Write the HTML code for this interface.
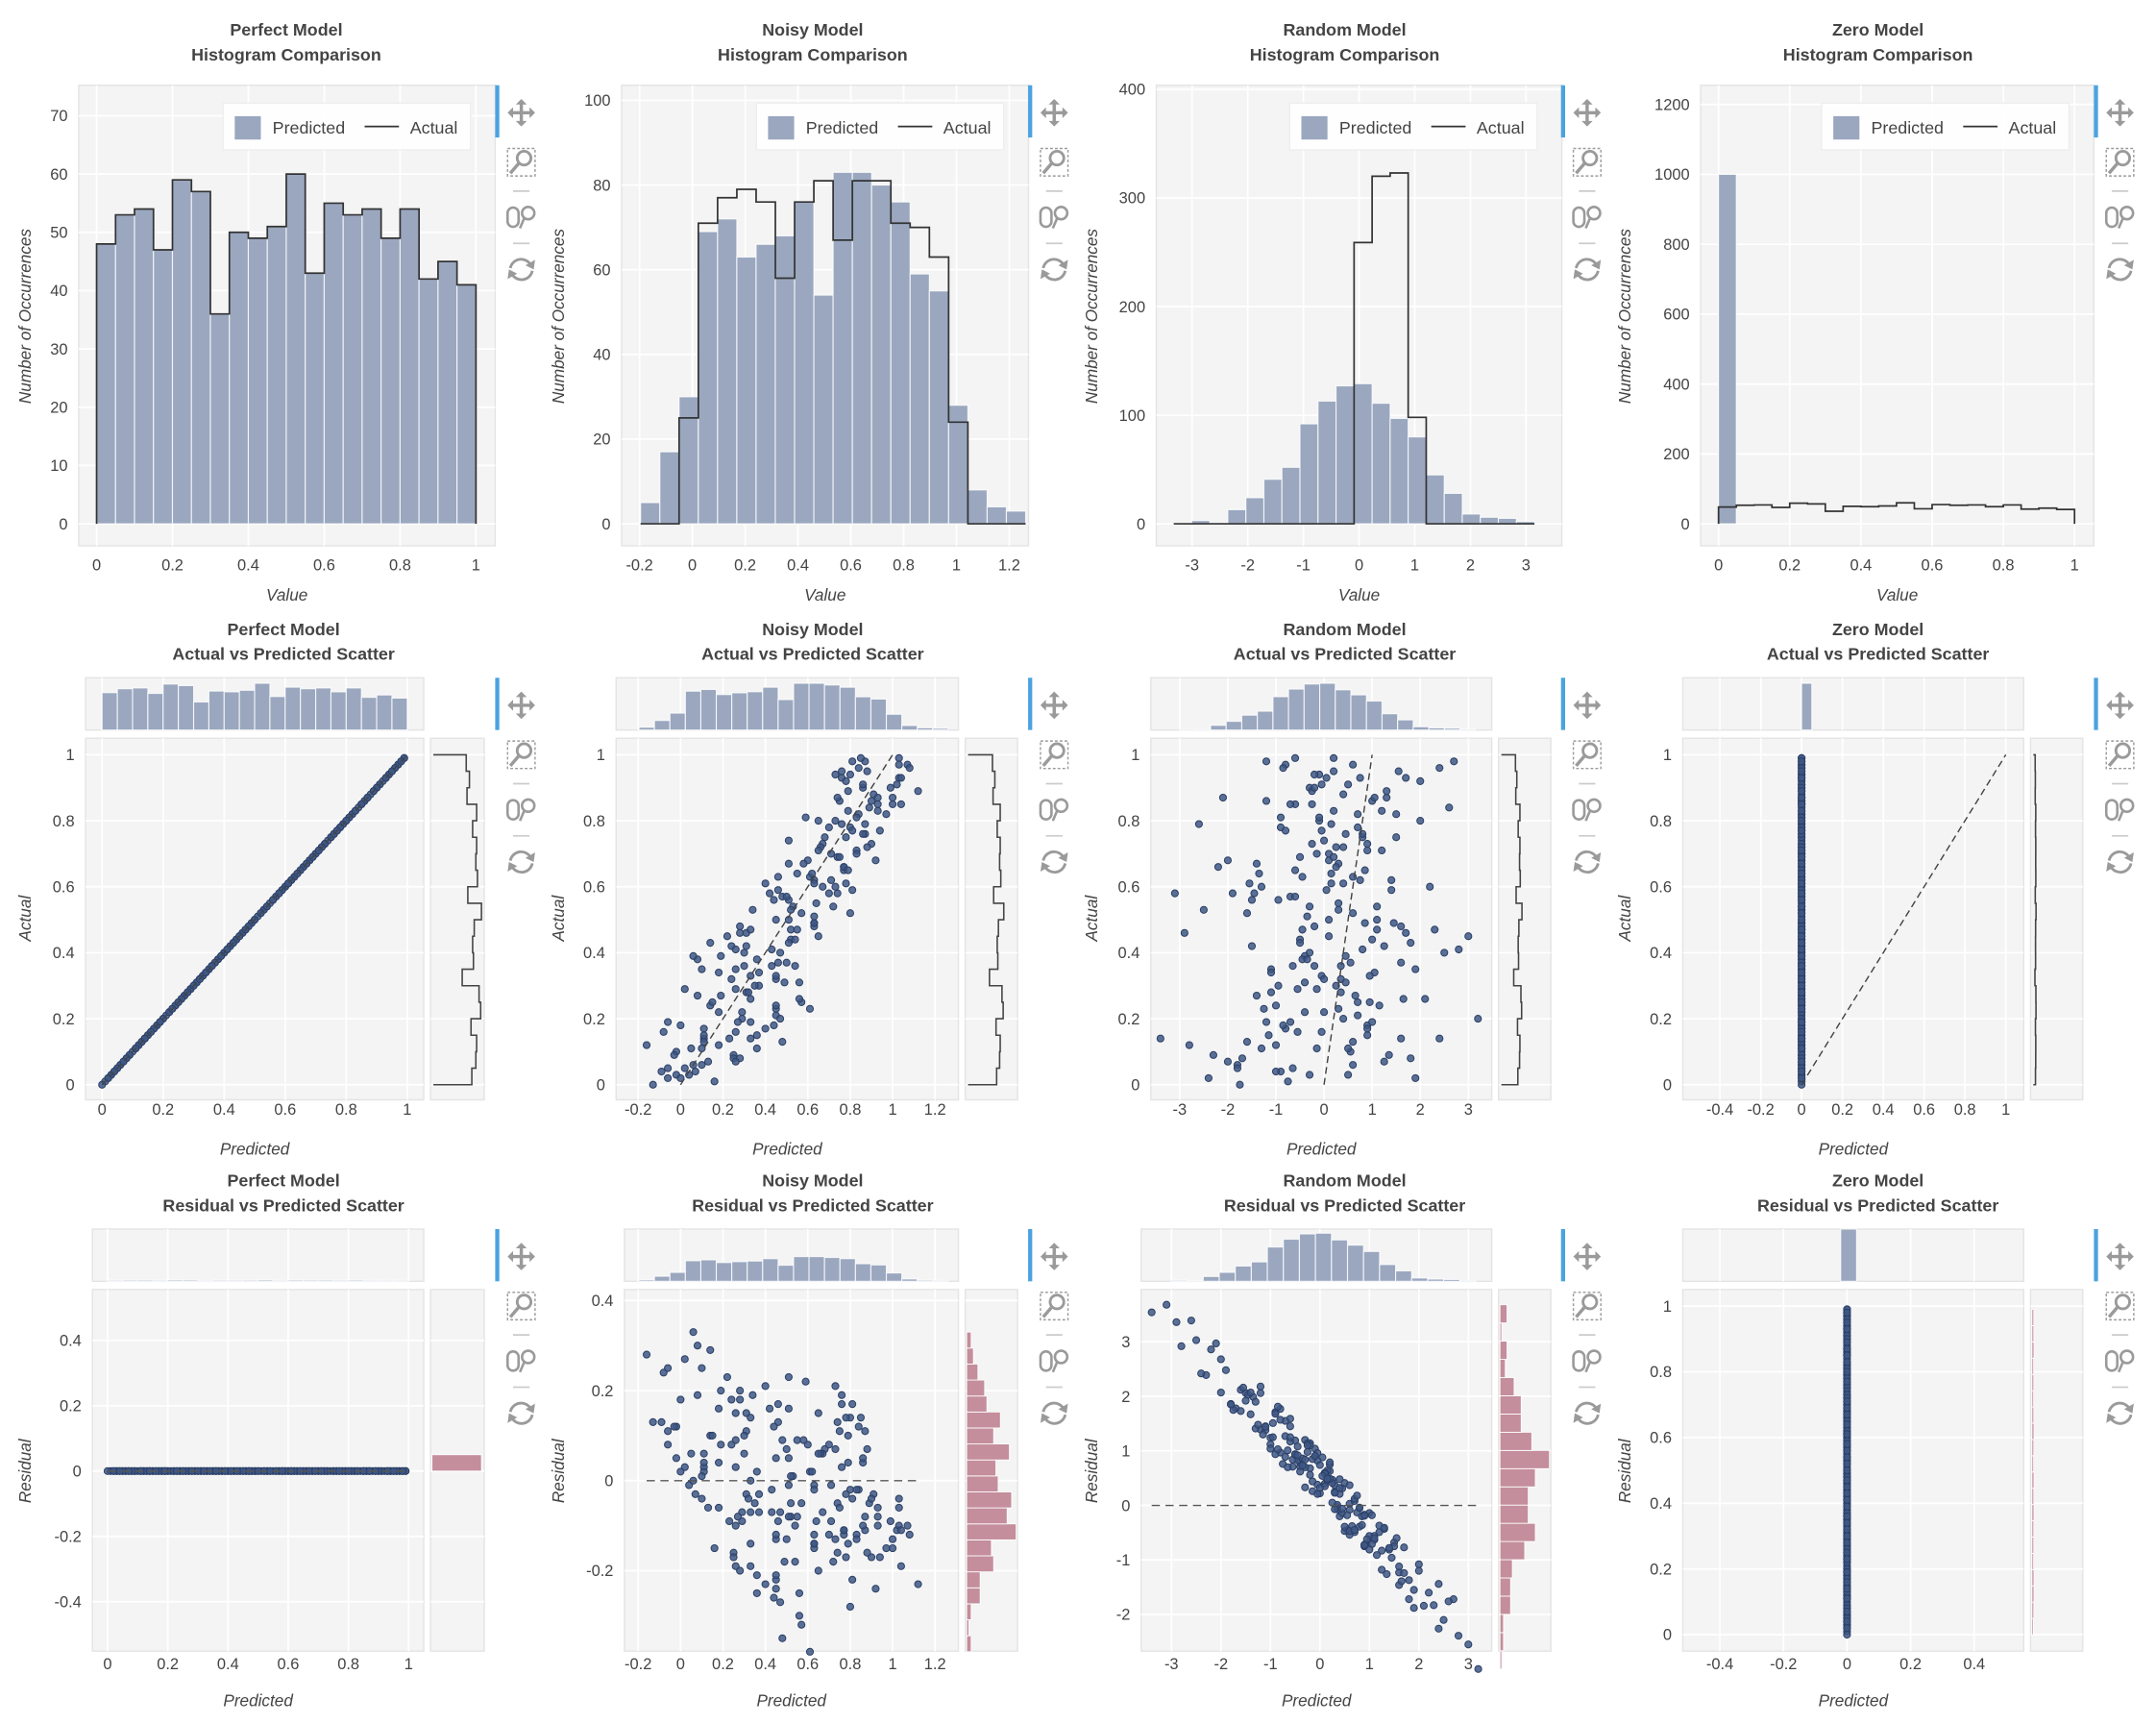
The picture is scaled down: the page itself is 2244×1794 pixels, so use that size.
<!DOCTYPE html>
<html><head><meta charset="utf-8">
<style>
html,body{margin:0;padding:0;background:#fff;}
svg{display:block;font-family:"Liberation Sans",Arial,sans-serif;}
</style></head>
<body>
<svg id="chart" width="2244" height="1794" viewBox="0 0 1568 1254" xmlns="http://www.w3.org/2000/svg"></svg>
<script>
// ---------- DATA ----------
const histPerfectCounts=[48,53,54,47,59,57,36,50,49,51,60,43,55,53,54,49,54,42,45,41];
const histActualCounts=[48,53,54,47,59,57,36,50,49,51,60,43,55,53,54,49,54,42,45,41];
const histNoisyPred=[5,17,30,69,72,63,66,68,76,54,83,83,80,76,59,55,28,8,4,3];
const histNoisyActual=[0,0,25,71,77,79,76,58,76,81,67,81,81,71,70,63,24,0,0,0];
const histRandomPred=[0,3,1,13,24,41,52,92,113,127,129,111,97,80,45,28,9,6,5,2];
const histRandomActual=[0,0,0,0,0,0,0,0,0,0,259,320,323,98,0,0,0,0,0,0];
const histZeroPred=[1000,0,0,0,0,0,0,0,0,0,0,0,0,0,0,0,0,0,0,0];
const noisyBinRange=[-0.196,1.262];
const randomBinRange=[-3.33,3.15];
const unitBinRange=[0,1];

const actualValues=[.03,.71,.42,.88,.15,.57,.26,.94,.09,.63,.37,.81,.50,.19,.75,.31,.98,.06,.67,.44,.85,.22,.59,.12,.91,.35,.78,.48,.02,.69,.27,.83,.54,.17,.96,.40,.73,.08,.61,.33,.87,.24,.52,.14,.79,.46,.99,.29,.65,.11,
.55,.04,.82,.36,.68,.21,.93,.47,.13,.76,.39,.60,.01,.86,.28,.72,.45,.16,.97,.53,.07,.80,.32,.64,.25,.90,.43,.18,.70,.58,.10,.84,.38,.62,.23,.95,.49,.05,.77,.34,.66,.20,.89,.41,.56,.14,.74,.30,.92,.51,
.27,.86,.61,.09,.44,.79,.18,.53,.97,.35,.70,.03,.58,.24,.91,.47,.12,.82,.38,.66,.00,.75,.31,.57,.20,.94,.49,.15,.68,.42,.87,.06,.63,.33,.78,.26,.99,.52,.11,.73,.40,.85,.19,.60,.36,.81,.08,.46,.93,.29,
.65,.17,.90,.48,.34,.72,.05,.59,.83,.22,.41,.96,.13,.67,.30,.87,.54,.02,.76,.45,.19,.62,.98,.37,.80,.11,.56,.28,.93,.43,.69,.07,.50,.85,.25,.61,.39,.14,.77,.32,.89,.47,.04,.71,.58,.23,.95,.36,.64,.16];
const noisyError=[-.05,.12,-.18,.03,.21,-.09,.07,-.14,.16,-.02,.09,-.22,.01,.14,-.07,.25,-.11,.04,-.16,.08,.19,-.04,-.13,.06,.11,-.25,.02,.15,-.08,.05,-.19,.10,-.01,.23,-.12,.07,-.06,.17,-.21,.00,.13,-.10,.28,-.03,.08,-.15,.04,-.27,.12,-.06,
.09,-.13,.02,.18,-.08,.24,-.17,.05,-.02,.11,-.20,.07,.15,-.11,.03,-.06,.20,-.24,.10,-.01,.06,-.15,.13,-.09,.32,-.04,.08,-.18,.01,.16,-.12,.05,-.30,.09,.22,-.07,.14,-.03,.04,-.16,.11,.27,-.10,.02,-.05,.19,-.23,.07,-.14,.12,
-.08,.04,.17,-.12,.10,-.03,.26,-.19,.06,-.09,.13,.01,-.16,.21,-.05,.08,-.28,.15,-.02,.11,-.13,.03,.18,-.07,.09,-.21,.14,-.04,.24,-.11,.06,.00,-.17,.12,-.08,.30,-.14,.05,-.01,.17,-.10,.08,-.25,.13,-.06,.02,.20,-.18,.10,-.03,
.14,-.06,.09,-.20,.03,.16,-.11,.22,-.04,.07,-.15,.12,.35,-.09,.05,-.13,.18,-.02,.10,-.23,.08,.01,-.17,.13,-.07,.25,-.12,.04,.11,-.29,.06,.19,-.05,.15,-.10,.02,-.33,.09,.17,-.08,.23,-.14,.03,-.06,.12,.38,-.19,.07,-.02,.10];
const randomPred=[-0.3,1.2,-1.5,0.4,0.9,-0.7,2.1,-0.1,-2.3,0.6,1.6,-0.9,0.1,-1.2,0.8,-0.4,2.7,-1.8,0.3,1.0,-0.6,0.0,1.4,-2.8,0.5,-1.1,0.7,-0.2,1.9,-0.5,-1.4,0.2,1.1,-0.8,2.4,-0.3,0.9,-1.7,0.4,-0.05,1.3,-1.0,0.6,-3.4,0.15,1.7,-0.6,-0.15,0.85,-1.3,
0.3,-0.9,1.5,-0.2,-2.0,0.7,0.05,1.1,-1.6,0.45,-0.4,2.2,-0.75,1.0,-1.1,0.25,3.0,-0.55,0.6,-2.5,1.25,-0.1,0.35,-1.35,0.95,-0.3,1.8,-0.85,0.1,-1.9,0.55,2.6,-0.45,0.75,-1.25,0.2,1.45,-0.65,-0.05,1.05,-2.2,0.4,-0.25,0.8,-1.5,1.6,0.0,-0.95,2.0,-0.35,
0.65,-1.2,0.15,1.35,-0.5,-2.6,0.9,0.3,-0.8,1.9,-0.15,0.5,-1.45,1.15,-0.05,2.3,-1.0,0.7,-0.35,0.25,-1.75,1.5,0.45,-0.6,3.2,-0.2,0.85,-1.15,0.1,1.25,-2.1,0.6,-0.45,0.95,-0.9,1.65,0.2,-1.6,0.5,-0.25,2.5,-0.7,1.0,-1.3,0.35,-0.1,1.8,-2.9,0.75,-0.55,
-0.6,0.9,-0.2,1.6,-1.1,0.4,-1.8,0.05,1.2,-0.4,2.8,-0.85,0.6,-1.4,0.25,1.05,-0.3,-2.4,0.8,0.1,-0.7,1.4,-1.2,0.55,2.0,-0.15,-0.95,0.35,1.7,-0.5,0.2,-2.0,1.1,-0.25,0.7,-1.55,0.45,2.4,-0.8,0.0,1.3,-0.45,-1.0,0.9,-3.1,0.3,1.55,-0.65,0.15,-0.05];

const modelNames=["Perfect","Noisy","Random","Zero"];
const ticksUnit=[0,0.2,0.4,0.6,0.8,1];
const ticksNoisyX=[-0.2,0,0.2,0.4,0.6,0.8,1,1.2];
const ticksRandomX=[-3,-2,-1,0,1,2,3];
const ticksZeroX=[-0.4,-0.2,0,0.2,0.4,0.6,0.8,1];
const ticksHistY1=[0,10,20,30,40,50,60,70];
const ticksHistY2=[0,20,40,60,80,100];
const ticksHistY3=[0,100,200,300,400];
const ticksHistY4=[0,200,400,600,800,1000,1200];
const ticksResY1=[-0.4,-0.2,0,0.2,0.4];
const ticksResY2=[-0.2,0,0.2,0.4];
const ticksResY3=[-2,-1,0,1,2,3];
const ticksResY4=[0,0.2,0.4,0.6,0.8,1];
const ticksZeroResX=[-0.4,-0.2,0,0.2,0.4];

// ---------- HELPERS ----------
const svg=document.getElementById('chart');
const NS="http://www.w3.org/2000/svg";
const titleX=[206,591,978,1366];
function mk(tag,attrs,parent){const e=document.createElementNS(NS,tag);for(const k in attrs)e.setAttribute(k,attrs[k]);(parent||svg).appendChild(e);return e;}
function lin(d0,d1,r0,r1){return v=>r0+(v-d0)*(r1-r0)/(d1-d0);}
function fmt(v){return String(Math.round(v*10)/10).replace(/^(-?)0\./,'$10.');}
const BAR="#9aa7bf",DOT="#3e5784",PINK="#c48e9c",TXT="#444";

function frame(x0,y0,x1,y1,g,name){
  const r=mk('rect',{x:x0,y:y0,width:x1-x0,height:y1-y0,fill:'#f4f4f4',stroke:'#e4e4e4','stroke-width':1},g);
  
  
}
function gridX(ticks,sx,y0,y1,g){ticks.forEach(t=>{const l=mk('line',{x1:sx(t),x2:sx(t),y1:y0,y2:y1,stroke:'#fff','stroke-width':1.2},g);
  
  });}
function gridY(ticks,sy,x0,x1,g){ticks.forEach(t=>{const l=mk('line',{x1:x0,x2:x1,y1:sy(t),y2:sy(t),stroke:'#fff','stroke-width':1.2},g);
  
  });}
function tickLabelsX(ticks,sx,y,g){ticks.forEach(t=>{const e=mk('text',{x:sx(t),y:y,'text-anchor':'middle','font-size':11.5,fill:TXT},g);e.textContent=fmt(t);
  
  });}
function tickLabelsY(ticks,sy,x,g){ticks.forEach(t=>{const e=mk('text',{x:x,y:sy(t)+4,'text-anchor':'end','font-size':11.5,fill:TXT},g);e.textContent=fmt(t);
  
  });}
function title(cx,y,l1,l2,g){[l1,l2].forEach((s,i)=>{const e=mk('text',{x:cx,y:y+i*18,'text-anchor':'middle','font-size':12.5,'font-weight':'bold',fill:TXT},g);e.textContent=s;
  
  });}
function axisLabel(x,y,s,rot,g,name){const e=mk('text',{x:x,y:y,'text-anchor':'middle','font-size':12,'font-style':'italic',fill:TXT,transform:rot?`rotate(-90 ${x} ${y})`:''},g);e.textContent=s;
  
  }
function toolbar(x,yTop,g){
  const b=mk('rect',{x:x-19,y:yTop,width:3,height:38,fill:'#4aa3df'},g);
  
  
  const c='#9a9a9a';
  const p1=mk('g',{},g);
  
  
  const cy=yTop+20;
  mk('path',{d:`M${x-8} ${cy}H${x+8}M${x} ${cy-8}V${cy+8}`,stroke:c,'stroke-width':2.4},p1);
  mk('path',{d:`M${x-10} ${cy}l4 -4v8zM${x+10} ${cy}l-4 -4v8zM${x} ${cy-10}l-4 4h8zM${x} ${cy+10}l-4 -4h8z`,fill:c},p1);
  const p2=mk('g',{},g);
  
  
  const zy=yTop+46;
  mk('rect',{x:x-10,y:zy,width:20,height:20,fill:'none',stroke:c,'stroke-width':1,'stroke-dasharray':'2,1.5'},p2);
  mk('circle',{cx:x+2,cy:zy+7,r:5,fill:'none',stroke:c,'stroke-width':2},p2);
  mk('line',{x1:x-2,y1:zy+11,x2:x-8,y2:zy+18,stroke:c,'stroke-width':2.4},p2);
  mk('line',{x1:x-6,y1:yTop+77,x2:x+6,y2:yTop+77,stroke:'#ccc','stroke-width':1.2},g);
  const p3=mk('g',{},g);
  
  
  const wy=yTop+96;
  mk('rect',{x:x-10,y:wy-7,width:8,height:14,rx:4,fill:'none',stroke:c,'stroke-width':1.8},p3);
  mk('circle',{cx:x+5,cy:wy-3,r:4.5,fill:'none',stroke:c,'stroke-width':1.8},p3);
  mk('line',{x1:x+2,y1:wy+1,x2:x-1,y2:wy+8,stroke:c,'stroke-width':1.8},p3);
  mk('line',{x1:x-6,y1:yTop+115,x2:x+6,y2:yTop+115,stroke:'#ccc','stroke-width':1.2},g);
  const p4=mk('g',{},g);
  
  
  const ry=yTop+134;
  mk('path',{d:`M${x-8} ${ry-1}A8 8 0 0 1 ${x+7} ${ry-3}M${x+8} ${ry+1}A8 8 0 0 1 ${x-7} ${ry+3}`,fill:'none',stroke:c,'stroke-width':2},p4);
  mk('path',{d:`M${x+10} ${ry-7}l-1 7l-6 -3zM${x-10} ${ry+7}l1 -7l6 3z`,fill:c},p4);
}
function histBars(counts,range,sx,sy,base,g,name){
  const w=(range[1]-range[0])/counts.length;
  counts.forEach((c,i)=>{if(c<=0)return;const xa=sx(range[0]+i*w),xb=sx(range[0]+(i+1)*w);
    const r=mk('rect',{x:xa,y:sy(c),width:xb-xa,height:base-sy(c),fill:BAR,stroke:'#fff','stroke-width':0.8,'stroke-opacity':0.8},g);
    
    });
}
function stepPath(counts,range,sx,sy){
  const w=(range[1]-range[0])/counts.length;let d=`M${sx(range[0])} ${sy(0)}`;
  counts.forEach((c,i)=>{d+=`L${sx(range[0]+i*w)} ${sy(c)}L${sx(range[0]+(i+1)*w)} ${sy(c)}`;});
  d+=`L${sx(range[1])} ${sy(0)}`;return d;
}
function binCounts(vals,lo,hi,n){const c=new Array(n).fill(0);vals.forEach(v=>{let i=Math.floor((v-lo)/(hi-lo)*n);if(i>=n)i=n-1;if(i<0)i=0;c[i]++;});return c;}

// ---------- ROW 1: HISTOGRAMS ----------
const row1=[
 {name:'perfect',fx:[57,360],sx:lin(0,1,70,346),sy:lin(0,70,381,84.2),xt:ticksUnit,yt:ticksHistY1,pred:histPerfectCounts,act:histActualCounts,range:unitBinRange,actRange:unitBinRange,ylab:22},
 {name:'noisy',fx:[452,748],sx:lin(-0.2,1.2,465,734),sy:lin(0,100,381,73),xt:ticksNoisyX,yt:ticksHistY2,pred:histNoisyPred,act:histNoisyActual,range:noisyBinRange,actRange:noisyBinRange,ylab:410},
 {name:'random',fx:[841,1136],sx:lin(-3,3,867,1110),sy:lin(0,400,381,65),xt:ticksRandomX,yt:ticksHistY3,pred:histRandomPred,act:histRandomActual,range:randomBinRange,actRange:randomBinRange,ylab:798},
 {name:'zero',fx:[1237,1523],sx:lin(0,1,1250,1509),sy:lin(0,1200,381,76),xt:ticksUnit,yt:ticksHistY4,pred:histZeroPred,act:histActualCounts,range:unitBinRange,actRange:unitBinRange,ylab:1186}
];
row1.forEach((p,k)=>{
  const g=mk('g',{});
  
  
  title(k===0?208:titleX[k],26,modelNames[k]+' Model','Histogram Comparison',g);
  frame(p.fx[0],62,p.fx[1],397,g,p.name+'-histogram-plot-area');
  gridX(p.xt,p.sx,62,397,g);gridY(p.yt,p.sy,p.fx[0],p.fx[1],g);
  tickLabelsX(p.xt,p.sx,415,g);tickLabelsY(p.yt,p.sy,p.fx[0]-8,g);
  histBars(p.pred,p.range,p.sx,p.sy,p.sy(0),g,'predicted-bar');
  const s=mk('path',{d:stepPath(p.act,p.actRange,p.sx,p.sy),fill:'none',stroke:'#333','stroke-width':1.2},g);
  
  
  axisLabel((p.fx[0]+p.fx[1])/2,437,'Value',false,g,'x-axis-title');
  axisLabel(p.ylab,230,'Number of Occurrences',true,g,'y-axis-title');
  const lx=p.fx[1]-198;
  const lg=mk('g',{},g);
  
  
  mk('rect',{x:lx,y:75,width:180,height:34,fill:'#fff','fill-opacity':0.9,stroke:'#eee'},lg);
  const sw=mk('rect',{x:lx+8,y:84,width:20,height:18,fill:BAR,stroke:'#fff'},lg);
  
  
  const t1=mk('text',{x:lx+36,y:97,'font-size':12.5,fill:TXT},lg);t1.textContent='Predicted';
  
  
  const ll=mk('line',{x1:lx+103,x2:lx+128,y1:92,y2:92,stroke:'#333','stroke-width':1.2},lg);
  
  
  const t2=mk('text',{x:lx+136,y:97,'font-size':12.5,fill:TXT},lg);t2.textContent='Actual';
  
  
  toolbar(379+k*387.7,62,g);
});

// ---------- SCATTER DATA ----------
const predByModel=[
  actualValues.map(a=>a),
  actualValues.map((a,i)=>a+noisyError[i]),
  randomPred,
  actualValues.map(()=>0)
];

function dots(xs,ys,sx,sy,g){xs.forEach((x,i)=>{const c=mk('circle',{cx:sx(x),cy:sy(ys[i]),r:2.5,fill:DOT,'fill-opacity':0.85,stroke:'#2b3f66','stroke-width':0.7},g);
  
  });}

// ---------- ROW 2: ACTUAL VS PREDICTED ----------
const row2=[
 {name:'perfect',mx:[62,308],rx:[313,352],sx:lin(0,1,74,296),xt:ticksUnit,topMax:60,topRange:unitBinRange,top:histPerfectCounts,sideW:35,ylab:22},
 {name:'noisy',mx:[448,697],rx:[702,740],sx:lin(-0.2,1.2,464,680),xt:ticksNoisyX,topMax:83,topRange:noisyBinRange,top:histNoisyPred,sideW:26,ylab:410},
 {name:'random',mx:[837,1085],rx:[1090,1128],sx:lin(-3,3,858,1068),xt:ticksRandomX,topMax:129,topRange:randomBinRange,top:histRandomPred,sideW:15,ylab:798},
 {name:'zero',mx:[1224,1472],rx:[1477,1515],sx:lin(-0.4,1,1251,1459),xt:ticksZeroX,topMax:1000,topRange:[0,0.05],top:[1000],sideW:2,ylab:1186}
];
const sy2=lin(0,1,789,549);
row2.forEach((p,k)=>{
  const g=mk('g',{});
  
  
  title(titleX[k],462,modelNames[k]+' Model','Actual vs Predicted Scatter',g);
  frame(p.mx[0],493,p.mx[1],531,g,'top-marginal-histogram');
  gridX(p.xt,p.sx,493,531,g);
  const tsy=lin(0,p.topMax,531,497);
  histBars(p.top,p.topRange,p.sx,tsy,531,g,'top-marginal-bar');
  frame(p.mx[0],537,p.mx[1],800,g,p.name+'-scatter-plot-area');
  gridX(p.xt,p.sx,537,800,g);gridY(ticksUnit,sy2,p.mx[0],p.mx[1],g);
  tickLabelsX(p.xt,p.sx,811,g);tickLabelsY(ticksUnit,sy2,p.mx[0]-8,g);
  dots(predByModel[k],actualValues,p.sx,sy2,g);
  const d=mk('line',{x1:p.sx(0),y1:sy2(0),x2:p.sx(1),y2:sy2(1),stroke:'#444','stroke-width':1,'stroke-dasharray':'5,3'},g);
  
  
  frame(p.rx[0],537,p.rx[1],800,g,'right-marginal-histogram');
  gridY(ticksUnit,sy2,p.rx[0],p.rx[1],g);
  const rsx=lin(0,60,p.rx[0]+2,p.rx[0]+2+p.sideW);
  const w=1/histActualCounts.length;let dd=`M${rsx(0)} ${sy2(0)}`;
  histActualCounts.forEach((c,i)=>{dd+=`L${rsx(c)} ${sy2(i*w)}L${rsx(c)} ${sy2((i+1)*w)}`;});
  dd+=`L${rsx(0)} ${sy2(1)}`;
  const sp=mk('path',{d:dd,fill:'none',stroke:'#444','stroke-width':1.1},g);
  
  
  axisLabel((p.mx[0]+p.mx[1])/2,840,'Predicted',false,g,'x-axis-title');
  axisLabel(p.ylab,668,'Actual',true,g,'y-axis-title');
  toolbar(379+k*387.7,493,g);
});

// ---------- ROW 3: RESIDUAL VS PREDICTED ----------
const row3=[
 {name:'perfect',mx:[67,308],rx:[313,352],sx:lin(0,1,78,297),sy:lin(0,0.4,1070,975),xt:ticksUnit,yt:ticksResY1,topH:1,topMax:60,topRange:unitBinRange,top:histPerfectCounts,pinkW:36,ylab:22},
 {name:'noisy',mx:[454,697],rx:[702,740],sx:lin(-0.2,1.2,464,680),sy:lin(0,0.4,1077,946),xt:ticksNoisyX,yt:ticksResY2,topH:18,topMax:83,topRange:noisyBinRange,top:histNoisyPred,pinkW:36,ylab:410},
 {name:'random',mx:[830,1085],rx:[1090,1128],sx:lin(-3,3,852,1068),sy:lin(0,3,1095,976),xt:ticksRandomX,yt:ticksResY3,topH:35,topMax:129,topRange:randomBinRange,top:histRandomPred,pinkW:36,ylab:798},
 {name:'zero',mx:[1224,1472],rx:[1477,1515],sx:lin(-0.4,0.4,1251,1436),sy:lin(0,1,1189,950),xt:ticksZeroResX,yt:ticksResY4,topH:38,topMax:1000,topRange:[-0.02,0.03],top:[1000],pinkW:1.5,ylab:1186}
];
row3.forEach((p,k)=>{
  const g=mk('g',{});
  
  
  title(titleX[k],863,modelNames[k]+' Model','Residual vs Predicted Scatter',g);
  frame(p.mx[0],894,p.mx[1],932,g,'top-marginal-histogram');
  gridX(p.xt,p.sx,894,932,g);
  const tsy=lin(0,p.topMax,932,932-p.topH);
  histBars(p.top,p.topRange,p.sx,tsy,932,g,'top-marginal-bar');
  frame(p.mx[0],938,p.mx[1],1201,g,p.name+'-residual-plot-area');
  gridX(p.xt,p.sx,938,1201,g);gridY(p.yt,p.sy,p.mx[0],p.mx[1],g);
  tickLabelsX(p.xt,p.sx,1214,g);tickLabelsY(p.yt,p.sy,p.mx[0]-8,g);
  const pred=predByModel[k];
  const res=actualValues.map((a,i)=>a-pred[i]);
  dots(pred,res,p.sx,p.sy,g);
  const pmin=Math.min(...pred),pmax=Math.max(...pred);
  const z=mk('line',{x1:p.sx(pmin),y1:p.sy(0),x2:p.sx(pmax),y2:p.sy(0),stroke:'#555','stroke-width':1,'stroke-dasharray':'6,4'},g);
  
  
  frame(p.rx[0],938,p.rx[1],1201,g,'right-marginal-histogram');
  gridY(p.yt,p.sy,p.rx[0],p.rx[1],g);
  let lo=Math.min(...res),hi=Math.max(...res);if(hi-lo<1e-9){hi=lo+0.05;}
  const n=hi-lo<0.06?1:20;
  const cnt=binCounts(res,lo,hi,n);const cmax=Math.max(...cnt);
  cnt.forEach((c,i)=>{if(!c)return;const ya=p.sy(lo+(i+1)*(hi-lo)/n),yb=p.sy(lo+i*(hi-lo)/n);
    const r=mk('rect',{x:p.rx[0]+1,y:ya,width:c/cmax*p.pinkW,height:yb-ya,fill:PINK,stroke:'#fff','stroke-width':0.6},g);
    
    });
  axisLabel((p.mx[0]+p.mx[1])/2,1241,'Predicted',false,g,'x-axis-title');
  axisLabel(p.ylab,1070,'Residual',true,g,'y-axis-title');
  toolbar(379+k*387.7,894,g);
});
</script>
</body></html>
